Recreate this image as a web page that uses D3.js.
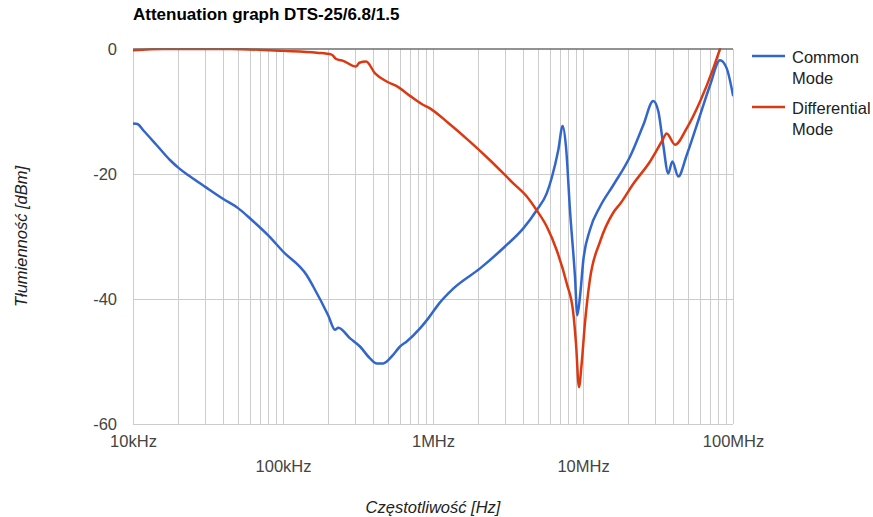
<!DOCTYPE html>
<html>
<head>
<meta charset="utf-8">
<script src="https://cdn.jsdelivr.net/npm/d3@7"></script>
<style>
  html, body { margin: 0; padding: 0; background: #fff; }
  svg { display: block; font-family: "Liberation Sans", Arial, sans-serif; }
</style>
</head>
<body>
<svg id="chart" width="873" height="517"></svg>
<script>
// Frequency points [Hz] and attenuation [dB] for each mode
const cmFreq = [10000, 10700, 11700, 14400, 17700, 20300, 23400, 30500, 40000, 50400, 60900, 80300,
  100000, 144000, 159000, 200000, 222000, 234000, 280000, 326000, 380000, 422000, 466000, 530000,
  603000, 668000, 819000, 930000, 1100000, 1370000, 2060000, 3020000, 4000000, 4910000, 5730000,
  6190000, 6840000, 7320000, 7700000, 8190000, 8840000, 9160000, 9550000, 10050000, 11100000,
  13000000, 15900000, 20600000, 25200000, 29400000, 31800000, 34300000, 37000000, 39400000,
  43200000, 49100000, 60300000, 70300000, 81900000, 90800000, 100000000];
const cmDb = [-11.9, -12.0, -13.0, -15.4, -17.8, -19.1, -20.2, -22.1, -24.0, -25.5, -27.2, -29.9,
  -32.4, -36.2, -38.0, -42.6, -44.9, -44.6, -46.3, -47.6, -49.5, -50.3, -50.3, -49.2,
  -47.6, -46.8, -44.7, -43.1, -40.7, -38.3, -35.1, -31.6, -28.7, -25.8, -23.1,
  -20.6, -16.2, -12.3, -15.6, -25.8, -36.4, -42.6, -39.6, -33.8, -29.0,
  -25.2, -21.8, -17.2, -12.2, -8.3, -10.0, -15.4, -19.9, -18.0,
  -20.4, -17.0, -10.6, -5.8, -1.8, -3.1, -7.4];

const dmFreq = [10000, 15900, 44300, 100000, 168000, 211000, 226000, 252000, 307000, 323000, 358000,
  411000, 491000, 587000, 703000, 841000, 955000, 1260000, 1740000, 2400000, 3430000, 4220000, 4910000,
  5730000, 6680000, 7790000, 8620000, 8980000, 9400000, 9800000, 10300000, 11100000, 13000000,
  15900000, 17900000, 21600000, 28000000, 33500000, 36100000, 41100000, 49100000, 60300000,
  73900000, 81900000];
const dmDb = [-0.2, 0, 0, -0.3, -0.6, -0.9, -1.6, -1.9, -2.8, -2.2, -2.0,
  -3.9, -5.2, -6.1, -7.5, -8.8, -9.5, -11.8, -14.7, -17.8, -21.5, -23.6, -25.8,
  -28.4, -32.2, -37.5, -42.3, -47.1, -54.1, -50.3, -43.9, -37.0, -30.8,
  -26.2, -24.6, -21.6, -18.0, -14.8, -13.5, -15.3, -12.7, -8.4,
  -3.1, 0];

const seriesNames = [["Common", "Mode"], ["Differential", "Mode"]];
const seriesColors = ["#3366cc", "#dc3912"];

const xTickValues = [1e4, 1e5, 1e6, 1e7, 1e8];
const xTickLabels = ["10kHz", "100kHz", "1MHz", "10MHz", "100MHz"];
const yTickValues = [0, -20, -40, -60];

const titleText = "Attenuation graph DTS-25/6.8/1.5";
const xTitle = "Częstotliwość [Hz]";
const yTitle = "Tłumienność [dBm]";

const svg = d3.select("#chart");
const plot = { left: 133, right: 733, top: 49, bottom: 424 };

const x = d3.scaleLog().domain([1e4, 1e8]).range([plot.left, plot.right]);
const y = d3.scaleLinear().domain([-60, 0]).range([plot.bottom, plot.top]);

// Vertical gridlines at 1..9 of every decade
const minorTicks = [];
for (let d = 4; d < 8; d++) {
  for (let m = 1; m <= 9; m++) minorTicks.push(m * Math.pow(10, d));
}
minorTicks.push(1e8);

const grid = svg.append("g");
grid.selectAll("line.v").data(minorTicks).join("line")
  .attr("x1", d => Math.round(x(d)) + 0.5).attr("x2", d => Math.round(x(d)) + 0.5)
  .attr("y1", plot.top).attr("y2", plot.bottom)
  .attr("stroke", "#cccccc").attr("stroke-width", 1);
grid.selectAll("line.h").data(yTickValues.filter(v => v !== 0)).join("line")
  .attr("x1", plot.left).attr("x2", plot.right)
  .attr("y1", d => Math.round(y(d)) + 0.5).attr("y2", d => Math.round(y(d)) + 0.5)
  .attr("stroke", "#cccccc").attr("stroke-width", 1);

// Clip for the data lines
svg.append("clipPath").attr("id", "plotClip").append("rect")
  .attr("x", plot.left).attr("y", plot.top - 1)
  .attr("width", plot.right - plot.left).attr("height", plot.bottom - plot.top + 2);

const line = d3.line()
  .x(d => x(d[0])).y(d => y(d[1]))
  .curve(d3.curveMonotoneX);

const series = [
  d3.zip(cmFreq, cmDb),
  d3.zip(dmFreq, dmDb)
];

const lines = svg.append("g").attr("clip-path", "url(#plotClip)");
series.forEach((s, i) => {
  lines.append("path")
    .datum(s)
    .attr("d", line)
    .attr("fill", "none")
    .attr("stroke", seriesColors[i])
    .attr("stroke-width", 2.5)
    .attr("stroke-linejoin", "round")
    .attr("stroke-linecap", "round");
});

// Zero baseline
svg.append("line")
  .attr("x1", plot.left).attr("x2", plot.right)
  .attr("y1", y(0)).attr("y2", y(0))
  .attr("stroke", "#6e6e6e").attr("stroke-width", 1.5);

// Y axis labels (plain hyphen for negatives)
const yAxis = d3.axisLeft(y).tickValues(yTickValues).tickSize(0).tickPadding(16)
  .tickFormat(d => String(d));
const gy = svg.append("g").attr("transform", `translate(${plot.left},0)`).call(yAxis);
gy.select(".domain").remove();
gy.selectAll("text").attr("font-size", "16.5px").attr("fill", "#444")
  .attr("font-family", "Liberation Sans, Arial, sans-serif");

// X axis labels, alternating rows
const xAxis = d3.axisBottom(x).tickValues(xTickValues).tickSize(0)
  .tickFormat((d, i) => xTickLabels[i]);
const gx = svg.append("g").attr("transform", `translate(0,${plot.bottom})`).call(xAxis);
gx.select(".domain").remove();
gx.selectAll("text")
  .attr("font-size", "16.5px").attr("fill", "#444")
  .attr("font-family", "Liberation Sans, Arial, sans-serif")
  .attr("dy", null)
  .attr("y", (d, i) => i % 2 === 0 ? 23 : 48);

// Title
svg.append("text")
  .attr("x", plot.left).attr("y", 20)
  .attr("font-size", "17px").attr("font-weight", "bold").attr("fill", "#000")
  .text(titleText);

// Axis titles
svg.append("text")
  .attr("x", (plot.left + plot.right) / 2).attr("y", 513)
  .attr("text-anchor", "middle").attr("font-style", "italic")
  .attr("font-size", "16.5px").attr("fill", "#222")
  .text(xTitle);

svg.append("text")
  .attr("transform", `translate(27,${(plot.top + plot.bottom) / 2}) rotate(-90)`)
  .attr("text-anchor", "middle").attr("font-style", "italic")
  .attr("font-size", "16.5px").attr("fill", "#222")
  .text(yTitle);

// Legend
const legend = svg.append("g");
const legendRows = [56, 107];
seriesNames.forEach((name, i) => {
  const ly = legendRows[i];
  legend.append("line")
    .attr("x1", 752).attr("x2", 785)
    .attr("y1", ly).attr("y2", ly)
    .attr("stroke", seriesColors[i]).attr("stroke-width", 2.5);
  const t = legend.append("text")
    .attr("x", 792).attr("y", ly + 6.5)
    .attr("font-size", "16.5px").attr("fill", "#222");
  name.forEach((part, j) => {
    t.append("tspan").attr("x", 792).attr("dy", j === 0 ? 0 : 21).text(part);
  });
});
</script>
</body>
</html>
